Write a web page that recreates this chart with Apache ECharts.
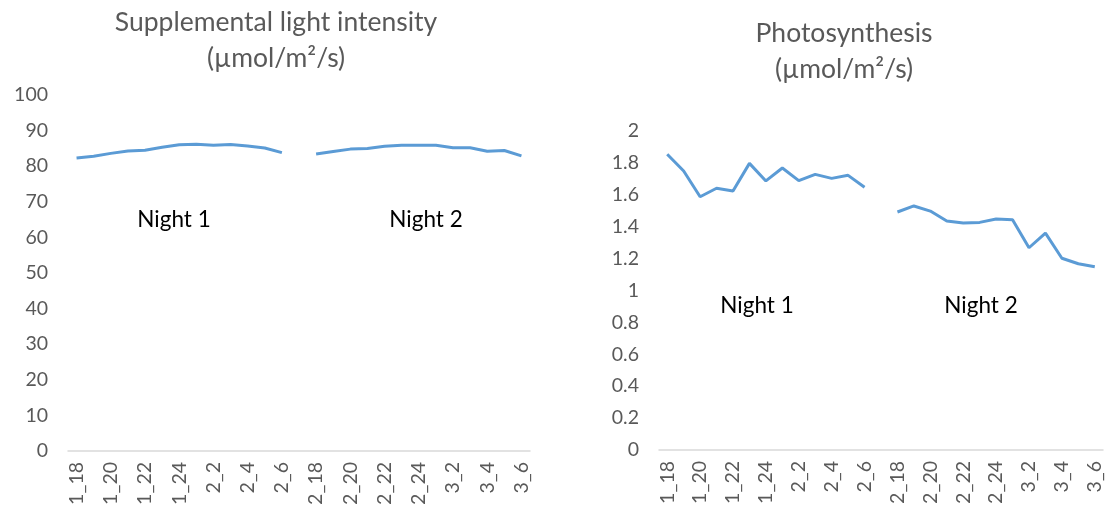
<!DOCTYPE html>
<html><head><meta charset="utf-8">
<script src="https://cdn.jsdelivr.net/npm/echarts@6/dist/echarts.min.js"></script>
<style>html,body{margin:0;padding:0;background:#fff}#c{width:1105px;height:517px}</style>
</head><body><div id="c"></div>
<script>
const categories = ['1_18','1_19','1_20','1_21','1_22','1_23','1_24','2_1','2_2','2_3','2_4','2_5','2_6','',
  '2_18','2_19','2_20','2_21','2_22','2_23','2_24','3_1','3_2','3_3','3_4','3_5','3_6'];
const lightValues = [82.3,82.8,83.6,84.3,84.5,85.3,86.0,86.2,85.9,86.1,85.7,85.1,83.8,null,
  83.4,84.1,84.8,85.0,85.6,85.9,85.9,85.9,85.2,85.2,84.2,84.4,82.9];
const photoValues = [1.854,1.749,1.588,1.641,1.624,1.797,1.687,1.768,1.689,1.728,1.703,1.722,1.647,null,
  1.492,1.530,1.498,1.436,1.423,1.427,1.448,1.444,1.268,1.360,1.202,1.168,1.149];
const leftTitle = ['Supplemental light intensity','(µmol/m²/s)'];
const rightTitle = ['Photosynthesis','(µmol/m²/s)'];
const nightLabels = ['Night 1','Night 2'];

const FONT = 'Lato, "Open Sans", sans-serif';
const GRAY = '#595959';
const chart = echarts.init(document.getElementById('c'), null, {renderer:'canvas'});
const xAxisCommon = {
  type:'category', data:categories, boundaryGap:true,
  axisLine:{show:true, lineStyle:{color:'#d9d9d9', width:1.5}},
  axisTick:{show:false},
  axisLabel:{interval:1, rotate:90, color:GRAY, fontSize:19.5, fontFamily:FONT, margin:11}
};
const yAxisCommon = {
  type:'value', axisLine:{show:false}, axisTick:{show:false}, splitLine:{show:false},
  axisLabel:{color:GRAY, fontSize:19.5, fontFamily:FONT, margin:20}
};
const titleStyle = {fontSize:26.5, fontWeight:'normal', color:GRAY, fontFamily:FONT, lineHeight:36};
const nightFont = '22.5px ' + FONT;
chart.setOption({
  animation:false,
  title:[
    {text:leftTitle.join('\n'), left:271, top:-1, textAlign:'center', textStyle:titleStyle},
    {text:rightTitle.join('\n'), left:839, top:10, textAlign:'center', textStyle:titleStyle}
  ],
  grid:[
    {left:68, top:95, width:462, height:356},
    {left:659, top:131, width:444, height:319}
  ],
  xAxis:[
    Object.assign({gridIndex:0}, xAxisCommon),
    Object.assign({gridIndex:1}, xAxisCommon)
  ],
  yAxis:[
    Object.assign({gridIndex:0, min:0, max:100, interval:10}, yAxisCommon),
    Object.assign({gridIndex:1, min:0, max:2, interval:0.2}, yAxisCommon,
      {axisLabel:Object.assign({}, yAxisCommon.axisLabel, {formatter:v=>String(+v.toFixed(1))})})
  ],
  series:[
    {type:'line', xAxisIndex:0, yAxisIndex:0, data:lightValues, showSymbol:false, connectNulls:false,
     lineStyle:{color:'#5B9BD5', width:3}, itemStyle:{color:'#5B9BD5'}},
    {type:'line', xAxisIndex:1, yAxisIndex:1, data:photoValues, showSymbol:false, connectNulls:false,
     lineStyle:{color:'#5B9BD5', width:3}, itemStyle:{color:'#5B9BD5'}}
  ],
  graphic:[
    {type:'text', x:174, y:220, style:{text:nightLabels[0], fill:'#000', font:nightFont, align:'center', verticalAlign:'middle'}},
    {type:'text', x:426, y:220, style:{text:nightLabels[1], fill:'#000', font:nightFont, align:'center', verticalAlign:'middle'}},
    {type:'text', x:757, y:306, style:{text:nightLabels[0], fill:'#000', font:nightFont, align:'center', verticalAlign:'middle'}},
    {type:'text', x:981, y:306, style:{text:nightLabels[1], fill:'#000', font:nightFont, align:'center', verticalAlign:'middle'}}
  ]
});
</script></body></html>
